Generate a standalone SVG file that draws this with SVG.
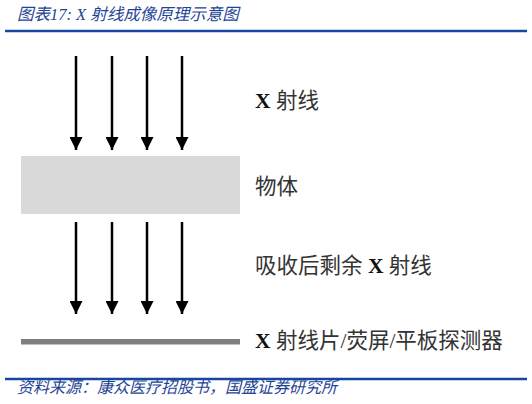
<svg xmlns="http://www.w3.org/2000/svg" width="532" height="404" viewBox="0 0 532 404">
<defs>
<style>
.hdr{font-family:"Liberation Serif","Noto Sans CJK SC",serif;font-style:italic;fill:#1f4596;}
.lbl{font-family:"Liberation Serif","Noto Sans CJK SC",serif;font-size:21.5px;fill:#333333;}
.x{font-weight:bold;fill:#111111;}
.ray{stroke:#000;stroke-width:2.5;fill:none;}
.rule{stroke:#1547a0;stroke-width:2.5;}
</style>
<marker id="ah" viewBox="0 0 10 10" refX="10" refY="5" markerWidth="5.2" markerHeight="5.2" markerUnits="strokeWidth" orient="auto">
<path d="M0,0 L10,5 L0,10 z" fill="#000"/>
</marker>
</defs>
<rect width="532" height="404" fill="#fff"/>
<text class="hdr" x="17" y="20" font-size="16.5">图表17:  X 射线成像原理示意图</text>
<line class="rule" x1="5" y1="31" x2="527" y2="31"/>
<g id="object">
<rect x="21" y="156" width="219" height="58" fill="#d9d9d9"/>
</g>
<g id="detector">
<rect x="21" y="339" width="219" height="5.5" fill="#7f7f7f"/>
</g>
<g id="connectors">
<line class="ray" x1="76" y1="56" x2="76" y2="150" marker-end="url(#ah)"/>
<line class="ray" x1="112" y1="56" x2="112" y2="150" marker-end="url(#ah)"/>
<line class="ray" x1="147" y1="56" x2="147" y2="150" marker-end="url(#ah)"/>
<line class="ray" x1="182" y1="56" x2="182" y2="150" marker-end="url(#ah)"/>
<line class="ray" x1="76" y1="222" x2="76" y2="314" marker-end="url(#ah)"/>
<line class="ray" x1="112" y1="222" x2="112" y2="314" marker-end="url(#ah)"/>
<line class="ray" x1="147" y1="222" x2="147" y2="314" marker-end="url(#ah)"/>
<line class="ray" x1="182" y1="222" x2="182" y2="314" marker-end="url(#ah)"/>
</g>
<g id="label-xray"><text class="lbl" x="255" y="108"><tspan class="x">X</tspan> 射线</text></g>
<g id="label-object"><text class="lbl" x="255" y="194">物体</text></g>
<g id="label-remaining"><text class="lbl" x="255" y="273">吸收后剩余 <tspan class="x">X</tspan> 射线</text></g>
<g id="label-detector"><text class="lbl" x="255" y="348"><tspan class="x">X</tspan> 射线片/荧屏/平板探测器</text></g>
<line class="rule" x1="5" y1="379" x2="527" y2="379"/>
<text class="hdr" x="17" y="393" font-size="16">资料来源：康众医疗招股书，国盛证券研究所</text>
</svg>
